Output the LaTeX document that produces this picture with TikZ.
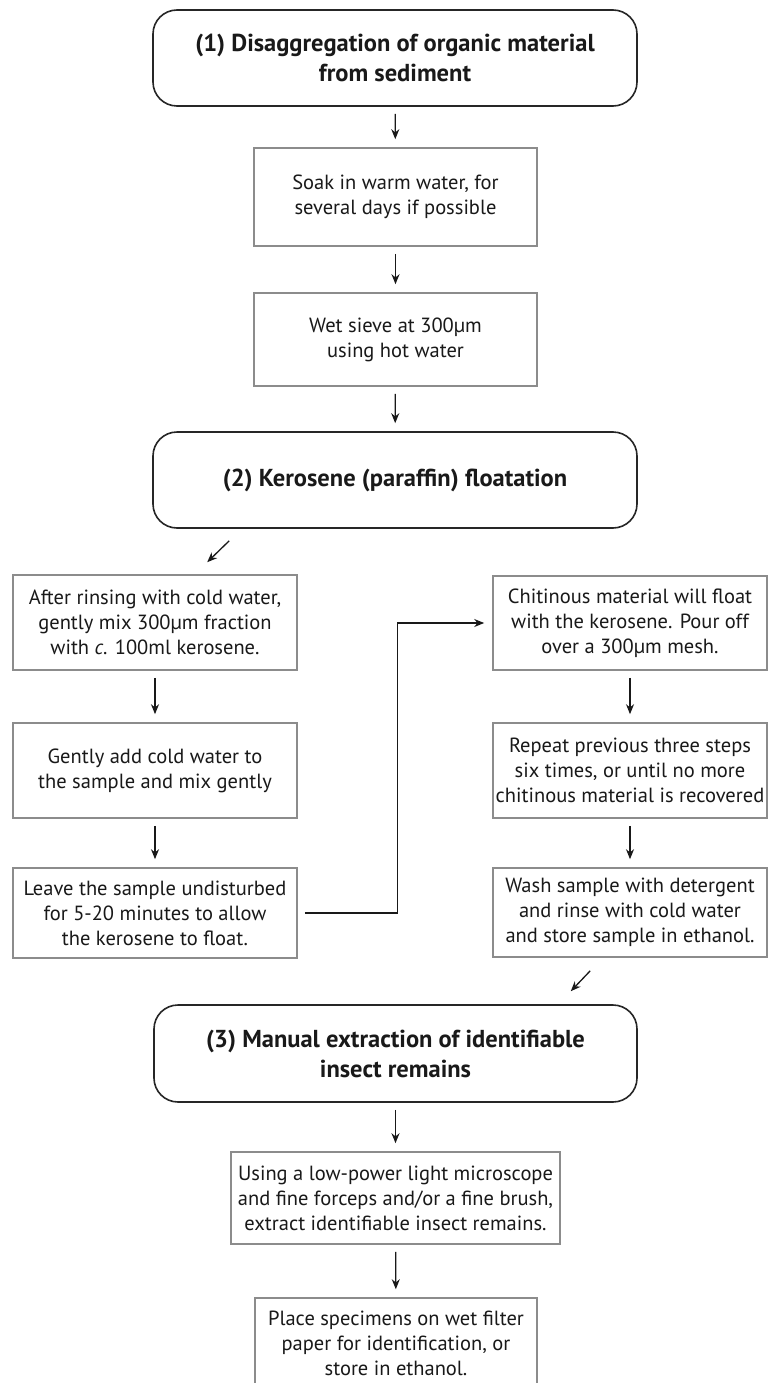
\documentclass[tikz,border=0pt]{standalone}
\usepackage{fontspec}
\setmainfont{PT Sans}
\usetikzlibrary{arrows.meta,positioning}

\begin{document}
\begin{tikzpicture}[x=1pt, y=-1pt,
		head/.style = {draw=black!85, text=black!90, rounded corners=24pt, line width=1.6pt, align=center, inner sep=0pt, minimum width=484pt, minimum height=96pt, font=\bfseries\fontsize{24.5}{30}\selectfont},
		stepbox/.style = {draw=black!45, text=black!90, line width=1.6pt, align=center, inner sep=0pt, font=\fontsize{20.5}{25}\selectfont},
		arr/.style = {-{Stealth[length=10pt, width=8pt]}, draw=black!90, line width=1.3pt, shorten <=7pt, shorten >=8pt}]
		\fill[white] (0,0) rectangle (768,1383);
		\clip (0,0) rectangle (768,1383);
		
		\node[head] (h1) at (395,58) {(1) Disaggregation of organic material\\from sediment};
		\node[stepbox, minimum width=283pt, minimum height=98pt] (soak) at (395.5,197) {Soak in warm water, for\\several days if possible};
		\node[stepbox, minimum width=283pt, minimum height=93pt] (sieve) at (395.5,339.5) {Wet sieve at 300µm\\using hot water};
		\node[head] (h2) at (395,480) {(2) Kerosene (paraffin) floatation};
		
		\begin{scope}[stepbox/.append style={minimum width=284pt}]
			\node[stepbox, minimum height=95pt] (mix) at (155,622.5) {After rinsing with cold water,\\gently mix 300µm fraction\\with \textit{c.} 100ml kerosene.};
			\node[stepbox, minimum height=95pt] (add) at (155,770.5) {Gently add cold water to\\the sample and mix gently};
			\node[stepbox, minimum height=90pt] (leave) at (155,913) {Leave the sample undisturbed\\for 5-20 minutes to allow\\the kerosene to float.};
		\end{scope}
		
		\begin{scope}[stepbox/.append style={minimum width=274pt}]
			\node[stepbox, minimum height=94pt] (pour) at (630,623) {Chitinous material will float\\with the kerosene. Pour off\\over a 300µm mesh.};
			\node[stepbox, minimum height=95pt] (repeat) at (630,770.5) {Repeat previous three steps\\six times, or until no more\\chitinous material is recovered};
			\node[stepbox, minimum height=89pt] (wash) at (630,912.5) {Wash sample with detergent\\and rinse with cold water\\and store sample in ethanol.};
		\end{scope}
		
		\node[head, minimum width=483pt, minimum height=97pt] (h3) at (395.5,1053.5) {(3) Manual extraction of identifiable\\insect remains};
		\node[stepbox, minimum width=329pt, minimum height=92pt] (pick) at (395.5,1198) {Using a low-power light microscope\\and fine forceps and/or a fine brush,\\extract identifiable insect remains.};
		\node[stepbox, minimum width=282pt, minimum height=90pt] (place) at (396,1343) {Place specimens on wet filter\\paper for identification, or\\store in ethanol.};
		
		\draw[arr] (h1) -- (soak);
		\draw[arr] (soak) -- (sieve);
		\draw[arr] (sieve) -- (h2);
		\draw[arr, shorten <=0pt, shorten >=0pt] ([xshift=77pt, yshift=-12pt]h2.south west) -- ([xshift=195pt, yshift=12pt]mix.north west);
		\draw[arr] (mix) -- (add);
		\draw[arr] (add) -- (leave);
		\draw[arr] (leave.east) -- ++(100,0) |- (pour.west);
		\draw[arr] (pour) -- (repeat);
		\draw[arr] (repeat) -- (wash);
		\draw[arr, shorten <=0pt, shorten >=0pt] ([xshift=98pt, yshift=-13pt]wash.south west) -- ([xshift=-67pt, yshift=13pt]h3.north east);
		\draw[arr] (h3) -- (pick);
		\draw[arr] (pick) -- (place);
	\end{tikzpicture}
\end{document}
